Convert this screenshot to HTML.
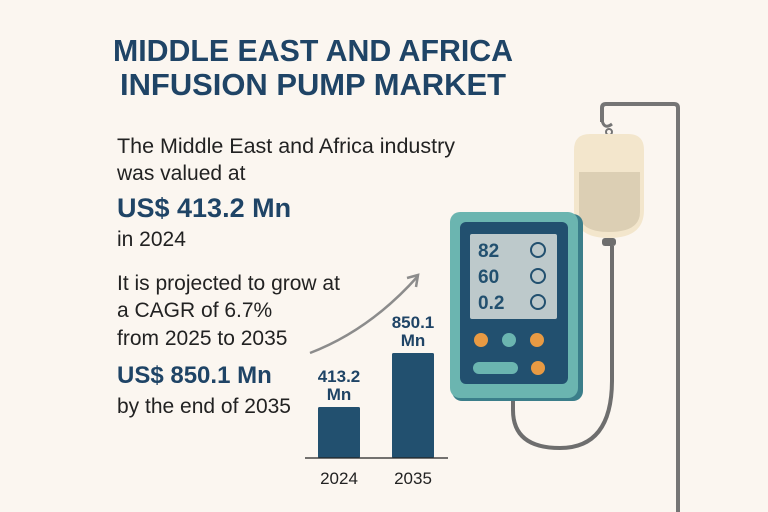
<!DOCTYPE html>
<html><head><meta charset="utf-8"><style>
html,body{margin:0;padding:0;background:#fbf6f0;}
svg{display:block;font-family:"Liberation Sans",sans-serif;}
</style></head><body>
<svg id="chart" width="768" height="512" viewBox="0 0 768 512">
<rect width="768" height="512" fill="#fbf6f0"/>
<g fill="#1f4466" font-weight="bold" font-size="31" text-anchor="middle">
<text x="313" y="61" textLength="400" lengthAdjust="spacingAndGlyphs">MIDDLE EAST AND AFRICA</text>
<text x="313" y="95" textLength="386" lengthAdjust="spacingAndGlyphs">INFUSION PUMP MARKET</text>
</g>
<g fill="#222" font-size="21">
<text x="117" y="153" textLength="338" lengthAdjust="spacingAndGlyphs">The Middle East and Africa industry</text>
<text x="117" y="180">was valued at</text>
<text x="117" y="217" font-size="27" font-weight="bold" fill="#1f4466">US$ 413.2 Mn</text>
<text x="117" y="246">in 2024</text>
<text x="117" y="290">It is projected to grow at</text>
<text x="117" y="317">a CAGR of 6.7%</text>
<text x="117" y="345">from 2025 to 2035</text>
<text x="117" y="383" font-size="24" font-weight="bold" fill="#1f4466">US$ 850.1 Mn</text>
<text x="117" y="413">by the end of 2035</text>
</g>
<path d="M310 353 Q370 330 418 276" fill="none" stroke="#8c8c8c" stroke-width="2.5"/>
<path d="M407 278 L418 275 L416 287" fill="none" stroke="#8c8c8c" stroke-width="2.5"/>
<g id="bars"></g>
<line x1="305" y1="458" x2="448" y2="458" stroke="#222" stroke-width="1.3"/>
<path d="M602 122 L602 108 Q602 104 606 104 L674 104 Q678 104 678 108 L678 512" fill="none" stroke="#757575" stroke-width="4"/>
<path d="M602 120 Q604 130 612 124" fill="none" stroke="#757575" stroke-width="3"/>
<circle cx="609" cy="132" r="3" fill="none" stroke="#757575" stroke-width="2"/>
<path d="M574 150 Q574 134 590 134 L628 134 Q644 134 644 150 L644 210 Q644 238 609 238 Q574 238 574 210 Z" fill="#f3e6cc"/>
<path d="M579 172 L640 172 L640 212 Q640 232 609 232 Q579 232 579 212 Z" fill="#dccfb4"/>
<rect x="602" y="238" width="14" height="8" rx="3" fill="#6e6e6e"/>
<path d="M612 246 L612 380 Q612 448 560 448 Q513 448 513 410 L513 398" fill="none" stroke="#6e6e6e" stroke-width="4"/>
<g>
<rect x="452" y="214" width="131" height="187" rx="10" fill="#3b7e8a"/>
<rect x="450" y="212" width="128" height="186" rx="10" fill="#6bb5b0"/>
<rect x="460" y="222" width="108" height="162" rx="6" fill="#22506f"/>
<rect x="470" y="234" width="87" height="85" rx="2" fill="#bdc9cb"/>
<g fill="#22506f" font-weight="bold" font-size="19">
<text x="478" y="257">82</text><text x="478" y="283">60</text><text x="478" y="309">0.2</text>
</g>
<g fill="none" stroke="#22506f" stroke-width="2">
<circle cx="538" cy="250" r="7"/><circle cx="538" cy="276" r="7"/><circle cx="538" cy="302" r="7"/>
</g>
<circle cx="481" cy="340" r="7" fill="#e89a43"/>
<circle cx="509" cy="340" r="7" fill="#6bb5b0"/>
<circle cx="537" cy="340" r="7" fill="#e89a43"/>
<rect x="473" y="362" width="45" height="12" rx="6" fill="#6bb5b0"/>
<circle cx="538" cy="368" r="7" fill="#e89a43"/>
</g>
</svg>
<script>
const categories = ["2024", "2035"];
const values = [413.2, 850.1];
const valueLabels = ["413.2", "850.1"];
(function(){
  const ns = "http://www.w3.org/2000/svg";
  const g = document.getElementById("bars");
  const baseY = 458, maxH = 105, maxV = 850.1;
  const y = v => baseY - v / maxV * maxH;
  const x0 = 318, step = 74, bw = 42;
  categories.forEach((c, i) => {
    const x = x0 + i * step, top = y(values[i]);
    const r = document.createElementNS(ns, "rect");
    r.setAttribute("x", x); r.setAttribute("y", top);
    r.setAttribute("width", bw); r.setAttribute("height", baseY - top);
    r.setAttribute("rx", 1.5); r.setAttribute("fill", "#22506f");
    
    
    g.appendChild(r);
    const t1 = document.createElementNS(ns, "text");
    t1.setAttribute("x", x + bw / 2); t1.setAttribute("y", top - 25);
    t1.setAttribute("text-anchor", "middle"); t1.setAttribute("font-size", "17");
    t1.setAttribute("font-weight", "bold"); t1.setAttribute("fill", "#1f4466");
    t1.textContent = valueLabels[i];
    
    
    g.appendChild(t1);
    const t2 = document.createElementNS(ns, "text");
    t2.setAttribute("x", x + bw / 2); t2.setAttribute("y", top - 7);
    t2.setAttribute("text-anchor", "middle"); t2.setAttribute("font-size", "17");
    t2.setAttribute("font-weight", "bold"); t2.setAttribute("fill", "#1f4466");
    t2.textContent = "Mn";
    
    
    g.appendChild(t2);
    const t3 = document.createElementNS(ns, "text");
    t3.setAttribute("x", x + bw / 2); t3.setAttribute("y", 484);
    t3.setAttribute("text-anchor", "middle"); t3.setAttribute("font-size", "17");
    t3.setAttribute("fill", "#222");
    t3.textContent = c;
    
    
    g.appendChild(t3);
  });
})();
</script>
</body></html>
